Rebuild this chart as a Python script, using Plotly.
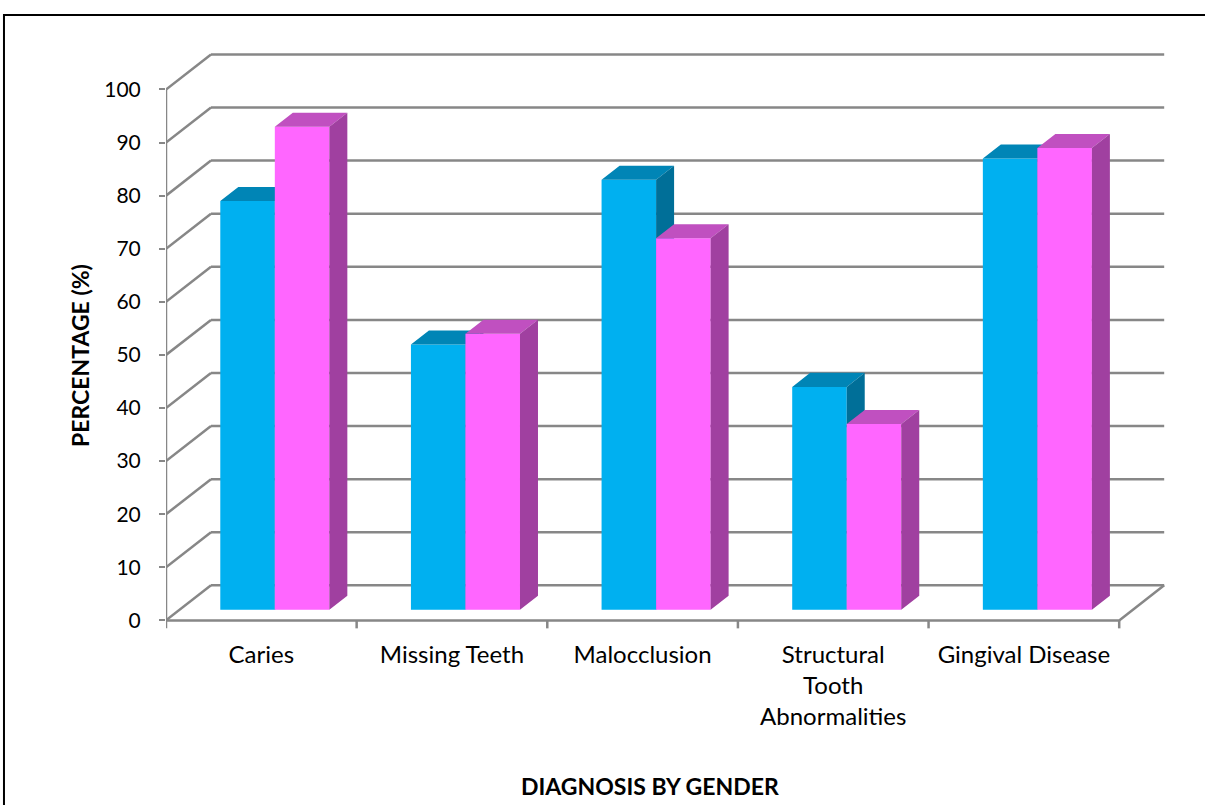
import plotly.graph_objects as go

# Prevalence of oral conditions (%) by gender
categories = ["Caries", "Missing Teeth", "Malocclusion",
              "Structural<br>Tooth<br>Abnormalities", "Gingival Disease"]
male = [77, 50, 81, 42, 85]
female = [91, 52, 70, 35, 87]
y_ticks = [0, 10, 20, 30, 40, 50, 60, 70, 80, 90, 100]

# Oblique projection of the 3-D box (data units)
DX, DY = 0.236, 6.6          # full depth of the chart box
BAR_FRONT = 0.30             # depth of the bar front faces (fraction)
BAR_DEPTH = 0.40             # depth of the bars (fraction)
BAR_W = 0.286

BLUE = ("#00B0F0", "#0085B6", "#006F98")      # front, top, side
PINK = ("#FF66FF", "#C050C0", "#A040A0")
GRID = "#878787"
FONT = "Lato"

n = len(categories)
x_left, x_right = -0.5, n - 0.5

fig = go.Figure()

# --- box: back wall gridlines, left-wall slants, floor, front axis ---
gx, gy = [], []
for v in y_ticks:
    gx += [x_left + DX, x_right + DX, None, x_left, x_left + DX, None]
    gy += [v + DY, v + DY, None, v, v + DY, None]
gx += [x_left, x_right, x_right + DX, None, x_left, x_left, None]
gy += [0, 0, DY, None, 0, y_ticks[-1], None]
for k in range(n + 1):
    gx += [x_left + k, x_left + k, None]
    gy += [0, -1.5, None]
fig.add_trace(go.Scatter(x=gx, y=gy, mode="lines", hoverinfo="skip",
                         line=dict(color=GRID, width=2.5), showlegend=False))


def faces(values, offset):
    """Front, top and side polygons of one series of 3-D columns."""
    fx, fy, tx, ty, sx, sy = [], [], [], [], [], []
    dx0, dy0 = BAR_FRONT * DX, BAR_FRONT * DY
    ddx, ddy = BAR_DEPTH * DX, BAR_DEPTH * DY
    for i, v in enumerate(values):
        x0 = i + offset + dx0
        x1 = x0 + BAR_W
        b = dy0
        t = dy0 + v
        fx += [x0, x1, x1, x0, x0, None]
        fy += [b, b, t, t, b, None]
        tx += [x0, x1, x1 + ddx, x0 + ddx, x0, None]
        ty += [t, t, t + ddy, t + ddy, t, None]
        sx += [x1, x1 + ddx, x1 + ddx, x1, x1, None]
        sy += [b, b + ddy, t + ddy, t, b, None]
    return (fx, fy), (tx, ty), (sx, sy)


def add_series(values, offset, colors, name):
    for (xs, ys), col in zip(faces(values, offset), colors):
        fig.add_trace(go.Scatter(x=xs, y=ys, mode="lines", fill="toself",
                                 fillcolor=col, line=dict(width=0, color=col),
                                 name=name, hoverinfo="skip", showlegend=False))


add_series(male, -BAR_W, BLUE, "Male")
add_series(female, 0.0, PINK, "Female")

# Outer chart border
fig.add_shape(type="rect", xref="paper", yref="paper",
              x0=-0.1617, x1=1.2, y0=-0.5, y1=1.0548,
              line=dict(color="black", width=2), fillcolor="rgba(0,0,0,0)",
              layer="below")

fig.add_annotation(text="<b>PERCENTAGE (%)</b>", xref="paper", yref="paper",
                   x=-0.0865, y=0.4716, textangle=-90, showarrow=False,
                   xanchor="center", yanchor="middle",
                   font=dict(family=FONT, size=23, color="black"))
fig.add_annotation(text="<b>DIAGNOSIS BY GENDER</b>", xref="paper", yref="paper",
                   x=0.483, y=-0.265, showarrow=False,
                   xanchor="center", yanchor="middle",
                   font=dict(family=FONT, size=23, color="black"))

fig.update_layout(
    width=1205, height=805,
    margin=dict(l=166, r=37, t=47, b=174),
    paper_bgcolor="white", plot_bgcolor="white",
    showlegend=False,
    xaxis=dict(range=[x_left, x_right + DX + 0.02], tickmode="array",
               tickvals=list(range(n)), ticktext=categories, ticks="",
               showgrid=False, zeroline=False, showline=False,
               automargin=False, ticklabelstandoff=7,
               tickfont=dict(family=FONT, size=24, color="black")),
    yaxis=dict(range=[-2, 108], tickmode="array", tickvals=y_ticks,
               ticks="outside", ticklen=6, tickwidth=2, tickcolor=GRID,
               showgrid=False, zeroline=False, showline=False,
               automargin=False, ticklabelstandoff=14,
               tickfont=dict(family=FONT, size=21, color="black")),
)

fig.write_html("out.html")
